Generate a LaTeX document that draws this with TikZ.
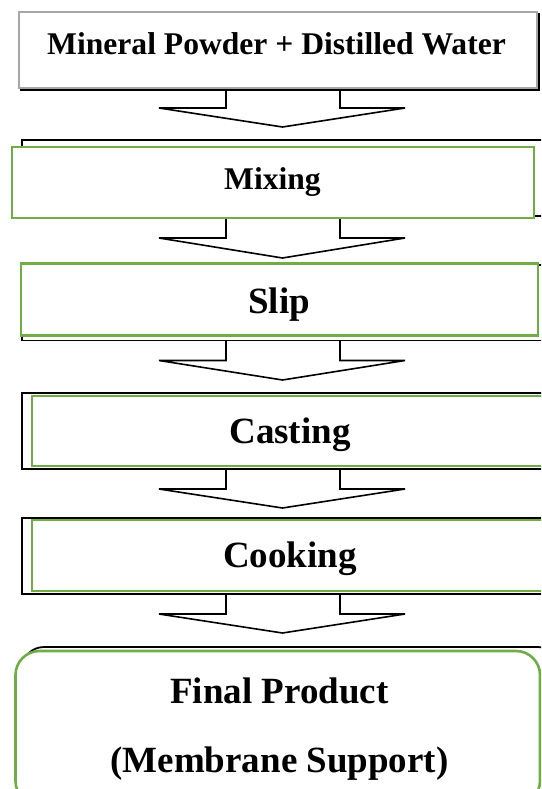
\documentclass[tikz,border=0pt]{standalone}
\usepackage{fontspec}
\setmainfont{Liberation Serif}
\usetikzlibrary{calc}
\definecolor{boxgreen}{HTML}{70AD47}
\definecolor{boxgray}{HTML}{A6A6A6}

\tikzset{
  backbox/.style={draw=black, line width=1.8pt, fill=white, inner sep=0pt, rectangle},
  greybox/.style={draw=boxgray, line width=2.2pt, fill=white, inner sep=0pt, rectangle},
  greenbox/.style={draw=boxgreen, line width=2.6pt, fill=white, inner sep=0pt, rectangle},
  smalltext/.style={anchor=base, inner sep=0pt, font=\bfseries\fontsize{31.6}{38}\selectfont},
  bigtext/.style={anchor=base, inner sep=0pt, font=\bfseries\fontsize{37}{44}\selectfont},
  blockarrow/.style={fill=white, draw=black, line width=1.6pt, line join=miter},
}

% hollow down arrow: stem top y, shoulder y, tip y
\newcommand\flowarrow[3]{%
  \filldraw[blockarrow]
    (226,#1) -- (226,#2) -- (159,#2) -- (282.5,#3) -- (405,#2) -- (340,#2) -- (340,#1);}

\begin{document}
\begin{tikzpicture}[x=1pt, y=-1pt]
\useasboundingbox (0,0) rectangle (541,789);
\clip (0,0) rectangle (541,789);
\fill[white] (0,0) rectangle (541,789);

% connectors between the steps
\flowarrow{86}{108}{127}
\flowarrow{214}{238}{258}
\flowarrow{338}{360.5}{380}
\flowarrow{467}{489}{508}
\flowarrow{592}{614}{633}

% step 1: raw materials
\node[backbox, minimum width=518pt, minimum height=76pt] (rawBack) at (280,52) {};
\node[greybox, minimum width=518pt, minimum height=76pt] (raw) at (278,50) {};
\node[smalltext] (rawText) at (276.5,55) {Mineral Powder + Distilled Water};

% step 2: mixing
\node[backbox, minimum width=538pt, minimum height=76pt] (mixBack) at (291,178) {};
\node[greenbox, minimum width=522pt, minimum height=71pt] (mix) at (273,182.5) {};
\node[smalltext] (mixText) at (272.5,189) {Mixing};

% step 3: slip
\node[backbox, minimum width=538pt, minimum height=75.5pt] (slipBack) at (291,302.75) {};
\node[greenbox, minimum width=517pt, minimum height=72pt] (slip) at (279.5,299.5) {};
\node[bigtext] (slipText) at (279,313) {Slip};

% step 4: casting
\node[backbox, minimum width=538pt, minimum height=76pt] (castBack) at (291,431) {};
\node[greenbox, minimum width=528pt, minimum height=70pt] (cast) at (296,431) {};
\node[bigtext] (castText) at (290,443) {Casting};

% step 5: cooking
\node[backbox, minimum width=538pt, minimum height=76pt] (cookBack) at (291,556) {};
\node[greenbox, minimum width=528pt, minimum height=71pt] (cook) at (296,555.5) {};
\node[bigtext] (cookText) at (290,567) {Cooking};

% step 6: final product
\node[backbox, rounded corners=22pt, minimum width=538pt, minimum height=173pt] (finalBack) at (291,733.5) {};
\node[greenbox, rounded corners=24pt, minimum width=524.5pt, minimum height=154pt] (final) at (277.75,728) {};
\node[bigtext] (finalText1) at (279.5,703) {Final Product};
\node[bigtext] (finalText2) at (279.5,772) {(Membrane Support)};
\end{tikzpicture}
\end{document}
